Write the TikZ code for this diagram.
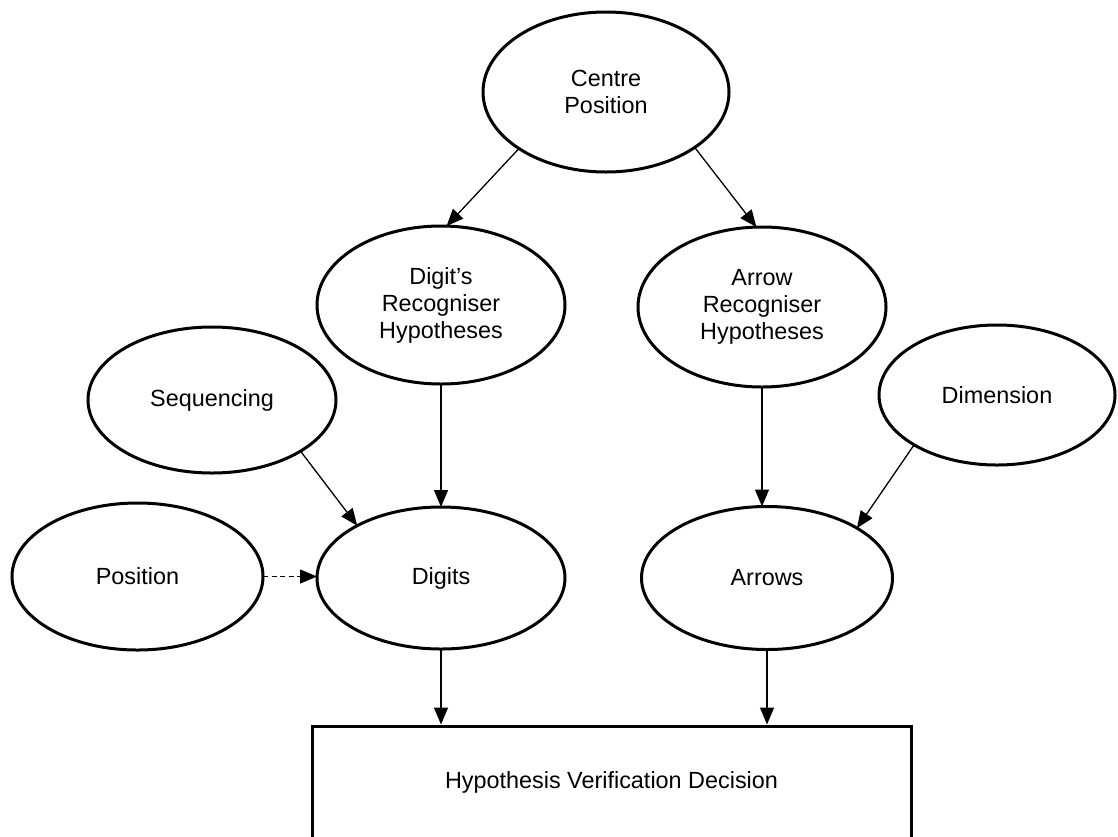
\documentclass[tikz,border=0pt]{standalone}
\usepackage{fontspec}
\setmainfont{Liberation Sans}
\usetikzlibrary{shapes.geometric,arrows.meta}
\begin{document}
\begin{tikzpicture}[x=1pt,y=-1pt,
  every node/.style={font=\fontsize{23.4}{27}\selectfont, align=center},
  bubble/.style={ellipse, draw, line width=3pt, inner sep=0pt, outer sep=0pt},
  link/.style={line width=1.3pt, -{Triangle[length=17pt,width=14pt]}},
  weak/.style={dash pattern=on 5pt off 3.5pt}]
\useasboundingbox (0,0) rectangle (1118,836);
\clip (0,0) rectangle (1118,836);

% hypothesis sources
\node[bubble, minimum width=246pt, minimum height=160pt] (cp) at (606,92) {Centre\\Position};
\node[bubble, minimum width=248pt, minimum height=158pt] (drh) at (441,305) {Digit’s\\Recogniser\\Hypotheses};
\node[bubble, minimum width=248pt, minimum height=160pt] (arh) at (762,307) {Arrow\\Recogniser\\Hypotheses};
\node[bubble, minimum width=248pt, minimum height=146pt] (seq) at (212,400) {Sequencing};
\node[bubble, minimum width=236pt, minimum height=140pt] (dim) at (997,395) {Dimension};
\node[bubble, minimum width=251pt, minimum height=147pt] (pos) at (137.5,576.5) {Position};

% recognised symbols
\node[bubble, minimum width=248pt, minimum height=142pt] (digits) at (441,578) {Digits};
\node[bubble, minimum width=251pt, minimum height=143pt] (arrows) at (767,578) {Arrows};

% final decision
\node[draw, line width=3pt, minimum width=599pt, minimum height=112pt, inner sep=0pt] (box) at (611.5,782) {Hypothesis Verification Decision};

% connectors
\draw[link] (cp.213) -- (drh.86);
\draw[link] (cp.-32) -- (arh.94);
\draw[link] (drh.south) -- (drh.south |- digits.north);
\draw[link] (arh.south) -- (arh.south |- arrows.north);
\draw[link] (seq.-30.5) -- (digits.148);
\draw[link, weak] (pos.east) -- (pos.east -| digits.west);
\draw[link] (dim.211) -- (arrows.29);
\draw[link] (digits.south) -- (digits.south |- box.north);
\draw[link] (arrows.south) -- (arrows.south |- box.north);
\end{tikzpicture}
\end{document}
